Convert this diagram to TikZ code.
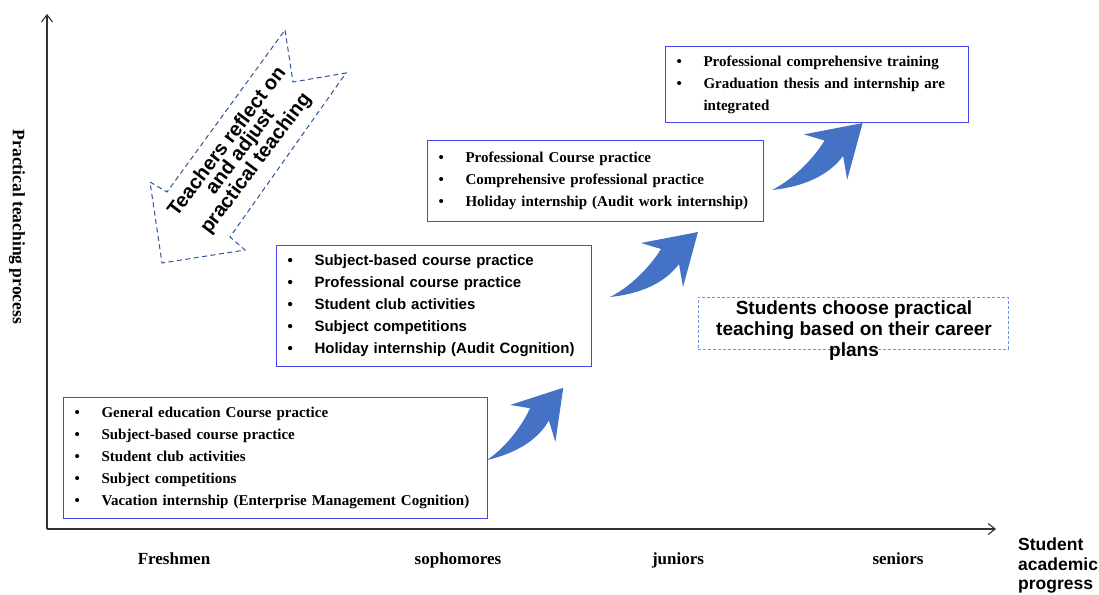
\documentclass[tikz,border=0pt]{standalone}
\usepackage{fontspec}
\setmainfont{Liberation Serif}
\setsansfont{Liberation Sans}
\usetikzlibrary{arrows.meta}

\definecolor{boxblue}{RGB}{70,70,235}
\definecolor{arrowfill}{RGB}{68,114,196}
\definecolor{dashblue}{RGB}{47,85,151}
\definecolor{planblue}{RGB}{110,150,220}
\definecolor{axisgray}{RGB}{50,50,50}

% bullet followed by a fixed gap before the item text
\newcommand\itembullet{\makebox[27pt][l]{\textbullet}}

\tikzset{
  % swept curved block arrow, drawn from its tail at the origin
  bendarrow/.pic={
    \fill[arrowfill] (0,0) .. controls (20,10) and (40,30) .. (51,48)
      -- (31,54) -- (88,65) -- (73,10) -- (69,33)
      .. controls (55,14) and (30,3) .. (0,0) -- cycle;
  }
}

\begin{document}
\begin{tikzpicture}[x=1pt,y=1pt,
  stagebox/.style={draw=boxblue, line width=1.1pt, anchor=north west,
    inner xsep=11pt, inner ysep=0pt, align=left},
  serifitems/.style={font=\rmfamily\bfseries\fontsize{15}{22}\selectfont},
  sansitems/.style={font=\sffamily\bfseries\fontsize{15}{22}\selectfont},
  axisline/.style={draw=axisgray, line width=1.2pt,
    -{Straight Barb[length=7pt,width=11pt,line width=1.1pt]}},
  yearlabel/.style={font=\rmfamily\bfseries\fontsize{17}{20}\selectfont, anchor=base},
  reflectarrow/.style={draw=dashblue, line width=1pt, dash pattern=on 5pt off 3.5pt},
  planbox/.style={draw=planblue, line width=0.9pt, dash pattern=on 3pt off 2pt,
    anchor=north west, inner sep=0pt}
]
\useasboundingbox (0,0) rectangle (1099,-594);

% axes
\coordinate (origin) at (47,-529);
\coordinate (ytop) at (47,-14);
\coordinate (xend) at (996,-529);
\draw[axisline] (origin) -- (ytop);
\draw[axisline] (origin) -- (xend);

\node[rotate=-90, font=\rmfamily\bfseries\fontsize{17.5}{20}\selectfont]
  (ylabel) at (17,-227) {Practical teaching process};

\node[yearlabel] (fresh) at (174,-564) {Freshmen};
\node[yearlabel] (soph) at (458,-564) {sophomores};
\node[yearlabel] (jun) at (678,-564) {juniors};
\node[yearlabel] (sen) at (898,-564) {seniors};

\node[anchor=north west, align=left, inner sep=0pt,
  font=\sffamily\bfseries\fontsize{17.5}{19.5}\selectfont]
  (xlabel) at (1018,-538) {Student\\academic\\progress};

% stage boxes
\node[stagebox, serifitems, text width=402pt, minimum height=121pt] (b1) at (63,-397)
  {\itembullet General education Course practice\\
   \itembullet Subject-based course practice\\
   \itembullet Student club activities\\
   \itembullet Subject competitions\\
   \itembullet Vacation internship (Enterprise Management Cognition)};

\node[stagebox, sansitems, text width=293pt, minimum height=121pt] (b2) at (276,-245)
  {\itembullet Subject-based course practice\\
   \itembullet Professional course practice\\
   \itembullet Student club activities\\
   \itembullet Subject competitions\\
   \itembullet Holiday internship (Audit Cognition)};

\node[stagebox, serifitems, text width=314pt, minimum height=81pt] (b3) at (427,-140)
  {\itembullet Professional Course practice\\
   \itembullet Comprehensive professional practice\\
   \itembullet Holiday internship (Audit work internship)};

\node[stagebox, serifitems, text width=281pt, minimum height=76pt] (b4) at (665,-46)
  {\itembullet Professional comprehensive training\\
   \itembullet Graduation thesis and internship are\\
   \hspace*{27pt}integrated};

% curved arrows between the stages
\path (487,-460) pic[rotate=7, scale=0.96] {bendarrow};
\path (610,-297) pic {bendarrow};
\path (772,-190) pic[scale=1.03] {bendarrow};

% dashed feedback arrow
\draw[reflectarrow] (285,-30) -- (293,-82) -- (346,-73) -- (230,-237)
  -- (245,-250) -- (162,-263) -- (150,-182) -- (167,-192) -- cycle;
\node[rotate=53, align=center, inner sep=0pt,
  font=\sffamily\bfseries\fontsize{20}{16.5}\selectfont]
  (reflect) at (242,-153) {Teachers reflect on\\and adjust\\practical teaching};

% career plan note
\node[planbox, minimum width=310pt, minimum height=52pt] (plan) at (698,-297) {};
\node[align=center, inner sep=0pt,
  font=\sffamily\bfseries\fontsize{19}{21}\selectfont]
  (plantext) at (854,-331) {Students choose practical\\teaching based on their career\\plans};

\end{tikzpicture}
\end{document}
